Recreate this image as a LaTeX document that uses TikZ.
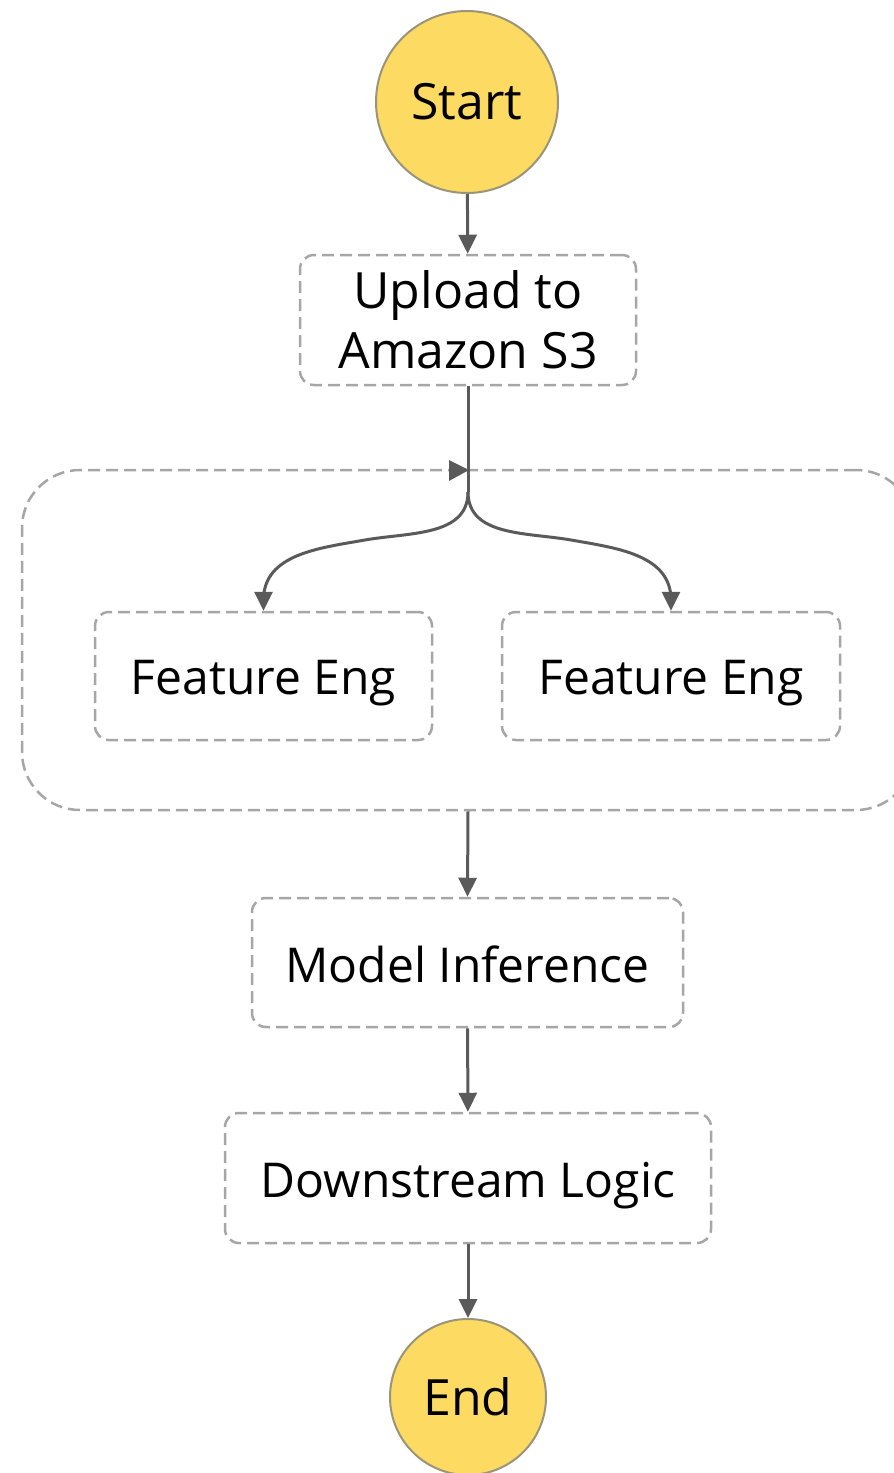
\documentclass[tikz,border=0pt]{standalone}
\usepackage{fontspec}
\setmainfont{Open Sans}
\usetikzlibrary{arrows.meta}
\definecolor{sfyellow}{HTML}{FDDA62}
\definecolor{sfring}{HTML}{9A9478}
\definecolor{sfdash}{HTML}{A6A6A6}
\definecolor{sfarrow}{HTML}{5A5A5A}
\newcommand{\lowertext}[2]{\raisebox{-#1}[\height][\depth]{#2}}
\tikzset{
  x=1pt,y=-1pt,
  term/.style={circle,fill=sfyellow,draw=sfring,line width=2pt,inner sep=0pt,
    font=\fontsize{50}{58}\selectfont},
  task/.style={rectangle,rounded corners=14pt,draw=sfdash,line width=2.5pt,
    dash pattern=on 12pt off 6pt,inner sep=0pt,
    font=\fontsize{48}{60}\selectfont},
  par/.style={rectangle,rounded corners=58pt,draw=sfdash,line width=2.5pt,
    dash pattern=on 12pt off 6pt,inner sep=0pt},
  flow/.style={draw=sfarrow,line width=3pt,-{Triangle[width=18pt,length=19pt]}},
  plain/.style={draw=sfarrow,line width=3pt},
}
\begin{document}
\begin{tikzpicture}
\useasboundingbox (0,0) rectangle (894,1473);
\node[term,minimum size=182pt] (start) at (467,102) {Start};
\node[task,align=center,minimum width=336pt,minimum height=130pt,font=\fontsize{50}{60}\selectfont] (upload) at (468,320) {Upload to\\Amazon S3};
\node[par,minimum width=892pt,minimum height=340pt] (parallel) at (468,640) {};
\node[task,minimum width=337pt,minimum height=128pt] (fe1) at (263.5,676) {\lowertext{7pt}{Feature Eng}};
\node[task,minimum width=338pt,minimum height=128pt] (fe2) at (671,676) {\lowertext{7pt}{Feature Eng}};
\node[task,minimum width=431pt,minimum height=129pt] (model) at (467.5,962.5) {\lowertext{2pt}{Model Inference}};
\node[task,minimum width=486pt,minimum height=130pt] (down) at (468,1178) {\lowertext{8pt}{Downstream Logic}};
\node[term,minimum size=156pt] (end) at (468,1397) {End};
\coordinate (split) at (468,492);
\draw[flow] (start) -- (upload);
\draw[plain] (upload.south) -- (split);
\fill[sfarrow] (449,460) -- (469,470) -- (449,481) -- cycle;
\draw[flow] (split) to[out=-90,in=10] (365,540) to[out=190,in=90] (263.5,600) -- (fe1.north);
\draw[flow] (split) to[out=-90,in=170] (571,540) to[out=-10,in=90] (671,600) -- (fe2.north);
\draw[flow] (parallel.south) -- (model.north);
\draw[flow] (model) -- (down);
\draw[flow] (down) -- (end);
\end{tikzpicture}
\end{document}
